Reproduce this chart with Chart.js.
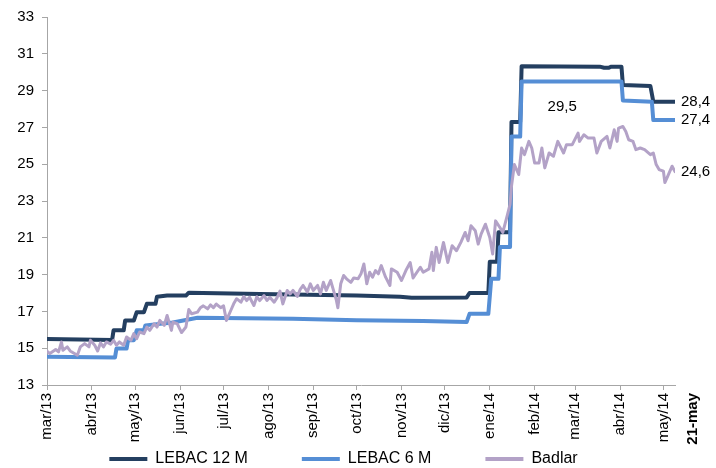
<!DOCTYPE html>
<html>
<head>
<meta charset="utf-8">
<script src="https://cdn.jsdelivr.net/npm/chart.js@4/dist/chart.umd.min.js"></script>
<style>
  html, body { margin: 0; padding: 0; background: #fff; }
  canvas { display: block; }
</style>
</head>
<body>
<canvas id="chart" width="716" height="468"></canvas>
<script>
// Monthly axis labels (first day of each month, from March 2013)
const monthLabels = ['mar/13', 'abr/13', 'may/13', 'jun/13', 'jul/13', 'ago/13', 'sep/13',
  'oct/13', 'nov/13', 'dic/13', 'ene/14', 'feb/14', 'mar/14', 'abr/14', 'may/14'];
const lastDateLabel = '21-may';

// Days are counted from 1 March 2013
const lebac12Days = [0, 45, 46, 53, 54, 60, 62, 67, 69, 75, 76, 83, 96, 98, 147, 214, 244, 252, 290, 292,
  305, 306, 311, 312, 320, 321, 327, 328, 382, 385, 388, 390, 397, 398, 417, 419, 434];
const lebac12 = [15.5, 15.45, 15.97, 15.97, 16.5, 16.5, 16.96, 16.96, 17.41, 17.41, 17.8, 17.86, 17.86, 18.02,
  17.95, 17.86, 17.8, 17.74, 17.76, 18.0, 18.0, 19.7, 19.7, 21.3, 21.3, 27.3, 27.3, 30.33, 30.3, 30.24,
  30.24, 30.3, 30.3, 29.3, 29.25, 28.4, 28.4];

const lebac6Days = [0, 47, 48, 55, 56, 60, 62, 67, 68, 87, 104, 170, 214, 260, 290, 292, 305, 307, 312, 313,
  320, 321, 327, 328, 356, 397, 398, 418, 419, 434];
const lebac6 = [14.53, 14.5, 14.98, 14.98, 15.43, 15.43, 15.97, 15.97, 16.24, 16.4, 16.65, 16.6, 16.52, 16.48,
  16.42, 16.87, 16.87, 18.77, 18.77, 20.5, 20.5, 26.5, 26.5, 29.5, 29.5, 29.5, 28.46, 28.4, 27.4, 27.4];

const badlarDays = [0, 2, 6, 8, 10, 11, 14, 16, 21, 23, 26, 29, 30, 33, 35, 37, 39, 41, 44, 46, 48, 50, 53, 55,
  58, 60, 62, 64, 67, 69, 71, 74, 76, 78, 81, 83, 86, 87, 90, 93, 96, 98, 100, 104, 106, 108, 111, 113, 115,
  117, 120, 122, 124, 127, 129, 131, 134, 136, 138, 140, 143, 145, 147, 150, 152, 154, 157, 159, 161, 163,
  166, 168, 170, 173, 175, 177, 180, 182, 184, 187, 189, 191, 193, 196, 198, 200, 201, 203, 205, 207, 210,
  212, 215, 217, 219, 221, 223, 225, 227, 229, 231, 234, 237, 238, 242, 245, 248, 251, 253, 258, 260, 264,
  266, 267, 269, 271, 274, 277, 280, 283, 286, 289, 291, 293, 296, 298, 300, 303, 306, 308, 310, 313, 315,
  318, 320, 321, 323, 326, 328, 330, 333, 335, 337, 340, 342, 344, 347, 350, 353, 357, 359, 363, 367, 368,
  371, 374, 378, 380, 383, 387, 389, 392, 394, 395, 398, 400, 402, 405, 407, 410, 413, 417, 419, 421, 423,
  426, 427, 429, 432, 434];
const badlar = [14.84, 14.71, 14.93, 14.8, 15.34, 14.89, 15.07, 14.85, 14.62, 15.07, 15.25, 15.07, 15.43, 15.16,
  14.85, 15.29, 15.07, 15.34, 15.22, 15.43, 15.16, 15.34, 15.16, 15.61, 15.43, 15.79, 15.52, 15.88, 15.79,
  16.15, 15.97, 16.33, 16.15, 16.51, 16.24, 16.78, 15.97, 16.42, 16.33, 15.85, 16.15, 17.1, 16.87, 16.96,
  17.2, 17.3, 17.14, 17.35, 17.2, 17.4, 17.2, 17.3, 16.51, 17.05, 17.41, 17.69, 17.5, 17.81, 17.59, 17.77,
  17.32, 17.8, 17.59, 17.86, 17.59, 17.77, 17.5, 17.75, 18.1, 17.41, 18.14, 17.95, 18.14, 17.81, 18.2, 18.41,
  18.05, 18.5, 18.14, 18.41, 17.95, 18.58, 18.14, 18.68, 18.14, 17.6, 17.2, 18.5, 18.95, 18.77, 18.58, 18.82,
  18.77, 19.04, 19.58, 18.5, 19.13, 18.86, 19.22, 19.04, 19.49, 18.86, 18.41, 19.31, 19.13, 18.68, 19.22,
  19.66, 18.82, 19.4, 19.13, 19.31, 20.21, 19.22, 20.48, 19.66, 20.75, 19.66, 20.57, 20.3, 20.75, 21.29,
  20.84, 21.65, 21.38, 20.66, 21.2, 21.74, 21.02, 20.12, 21.92, 21.56, 21.29, 22.19, 22.82, 23.8, 24.98,
  24.44, 25.88, 25.52, 26.24, 25.88, 25.07, 25.07, 25.88, 24.8, 25.61, 25.43, 26.24, 25.61, 26.06, 26.06,
  26.69, 26.24, 26.6, 26.42, 26.42, 25.61, 26.24, 26.51, 25.88, 26.87, 26.24, 26.96, 27.05, 26.78, 26.33,
  26.24, 25.79, 25.88, 25.79, 25.52, 25.61, 24.98, 24.71, 24.62, 24.0, 24.35, 24.89, 24.6];

const DAY = 86400000;
const origin = Date.UTC(2013, 2, 1);
const monthDays = monthLabels.map((_, i) => (Date.UTC(2013, 2 + i, 1) - origin) / DAY);
const lastDateDay = (Date.UTC(2014, 4, 21) - origin) / DAY;
const axisEndDay = 434;
const plateauNoteDay = 356;

const FONT = '"Liberation Sans", Arial, sans-serif';
const fmt = v => v.toFixed(1).replace('.', ',');
const points = (days, vals) => days.map((d, i) => ({ x: d, y: vals[i] }));

function series(label, days, vals, color, width, order) {
  return {
    label, data: points(days, vals), borderColor: color, backgroundColor: color,
    borderWidth: width, pointRadius: 0, tension: 0, order,
    borderJoinStyle: 'round', borderCapStyle: 'round'
  };
}

// Legend: reserve a thin band in the layout, then draw the row lower and wider apart
const LEGEND_PAD = 54;
const LEGEND_FONT = 16;
const legendBand = {
  id: 'legendBand',
  beforeInit(chart) {
    const fit = chart.legend.fit;
    chart.legend.fit = function () { fit.call(this); this.height = 23; };
  },
  afterLayout(chart) {
    const lg = chart.legend;
    lg.top = 459 - LEGEND_PAD - LEGEND_FONT / 2;
    lg.bottom = chart.height;
    lg.height = lg.bottom - lg.top;
    lg.left += 6;
    lg.right += 6;
  }
};

// End-of-series values, plateau value and final date label
const valueLabels = {
  id: 'valueLabels',
  afterDatasetsDraw(chart) {
    const { ctx, scales: { x, y } } = chart;
    ctx.save();
    ctx.font = '15px ' + FONT;
    ctx.fillStyle = '#000';
    ctx.textBaseline = 'middle';
    ctx.textAlign = 'left';
    chart.data.datasets.forEach(ds => {
      const p = ds.data[ds.data.length - 1];
      ctx.fillText(fmt(p.y), x.getPixelForValue(p.x) + 6, y.getPixelForValue(p.y));
    });
    const pt = chart.data.datasets[1].data.find(p => p.x === plateauNoteDay);
    ctx.textAlign = 'center';
    ctx.fillText(fmt(pt.y), x.getPixelForValue(pt.x), y.getPixelForValue(pt.y) + 25);

    ctx.font = 'bold 15px ' + FONT;
    ctx.translate(x.getPixelForValue(lastDateDay), x.top + 8);
    ctx.rotate(-Math.PI / 2);
    ctx.textAlign = 'right';
    ctx.fillText(lastDateLabel, 0, 0);
    ctx.restore();
  }
};

const axisGrey = '#a6a6a6';

new Chart(document.getElementById('chart'), {
  type: 'line',
  data: {
    datasets: [
      series('LEBAC 12 M', lebac12Days, lebac12, '#243f60', 4, 2),
      series('LEBAC 6 M', lebac6Days, lebac6, '#558ed5', 4, 1),
      series('Badlar', badlarDays, badlar, '#b3a2c7', 3, 0)
    ]
  },
  options: {
    responsive: false,
    animation: false,
    devicePixelRatio: 1,
    layout: { padding: { left: 0, right: 41, top: 15, bottom: 0 } },
    scales: {
      x: {
        type: 'linear',
        min: 0,
        max: axisEndDay,
        afterBuildTicks: s => { s.ticks = monthDays.map(v => ({ value: v })); },
        afterFit: s => { s.height = 60; },
        ticks: {
          autoSkip: false, minRotation: 90, maxRotation: 90, padding: 3,
          color: '#000', font: { family: FONT, size: 15 },
          callback: v => monthLabels[monthDays.indexOf(v)]
        },
        grid: { drawOnChartArea: false, drawTicks: true, tickLength: 5, color: axisGrey },
        border: { display: true, color: axisGrey, width: 1 }
      },
      y: {
        min: 13, max: 33,
        afterFit: s => { s.width = 47; },
        ticks: { stepSize: 2, padding: 8, color: '#000', font: { family: FONT, size: 15 } },
        grid: { drawOnChartArea: false, drawTicks: true, tickLength: 5, color: axisGrey },
        border: { display: true, color: axisGrey, width: 1 }
      }
    },
    plugins: {
      tooltip: { enabled: false },
      legend: {
        position: 'bottom',
        labels: {
          boxWidth: 38, boxHeight: 4, padding: LEGEND_PAD, color: '#000',
          font: { family: FONT, size: LEGEND_FONT },
          sort: (a, b) => a.datasetIndex - b.datasetIndex,
          generateLabels: chart => Chart.defaults.plugins.legend.labels.generateLabels(chart)
            .map(item => Object.assign(item, { lineWidth: 0 }))
        }
      }
    }
  },
  plugins: [legendBand, valueLabels]
});
</script>
</body>
</html>
